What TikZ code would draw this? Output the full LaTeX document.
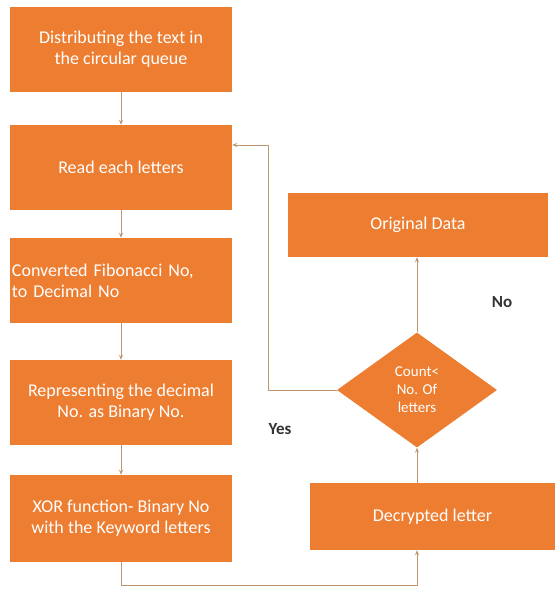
\documentclass[tikz,border=0pt]{standalone}
\usepackage{fontspec}
\setmainfont{Carlito}
\usetikzlibrary{shapes.geometric,arrows.meta}
\definecolor{boxorange}{RGB}{237,125,49}
\definecolor{linetan}{RGB}{190,150,112}
\begin{document}
\begin{tikzpicture}[x=1pt,y=-1pt,
    stepbox/.style={fill=boxorange, text=white, minimum width=222pt, minimum height=85pt,
        inner sep=2pt, align=center, font=\fontsize{18}{21}\selectfont},
    decision/.style={diamond, fill=boxorange, text=white, inner sep=0pt, aspect=1.39,
        minimum width=160pt, minimum height=115pt, align=center, font=\fontsize{15}{18}\selectfont},
    arr/.style={draw=linetan, line width=0.8pt, -{Stealth[length=5pt,width=4pt]}},
    lbl/.style={font=\bfseries\fontsize{17}{19}\selectfont, text=black!80}]
    \useasboundingbox (0,0) rectangle (559,597);
    % left column
    \node[stepbox] (dist) at (121,49.5) {Distributing the text in\\the circular queue};
    \node[stepbox] (read) at (121,167.5) {Read each letters};
    \node[stepbox, align=left, text width=218pt] (conv) at (121,280.5) {Converted Fibonacci No,\\to Decimal No};
    \node[stepbox] (repr) at (121,402.5) {Representing the decimal\\No. as Binary No.};
    \node[stepbox, minimum height=87pt] (xor) at (121,518.5) {XOR function- Binary No\\with the Keyword letters};
    % right column
    \node[stepbox, minimum width=260pt, minimum height=64pt] (orig) at (418,225) {Original Data};
    \node[decision] (count) at (417,390) {Count<\\No. Of\\letters};
    \node[stepbox, minimum width=245pt, minimum height=67pt] (decr) at (432.5,516.5) {Decrypted letter};
    \node[lbl] (no) at (502,302) {No};
    \node[lbl] (yes) at (280,429) {Yes};
    \coordinate (loop) at (268,145);
    \coordinate (bottom) at (417,585);
    % connectors
    \draw[arr] (dist) -- (read);
    \draw[arr] (read) -- (conv);
    \draw[arr] (conv) -- (repr);
    \draw[arr] (repr) -- (xor);
    \draw[arr] (xor.south) |- (bottom) -- (bottom |- decr.south);
    \draw[arr] (count.south |- decr.north) -- (count.south);
    \draw[arr] (count.north) -- (count.north |- orig.south);
    \draw[arr] (count.west) -| (loop) -- (loop -| read.east);
\end{tikzpicture}
\end{document}
